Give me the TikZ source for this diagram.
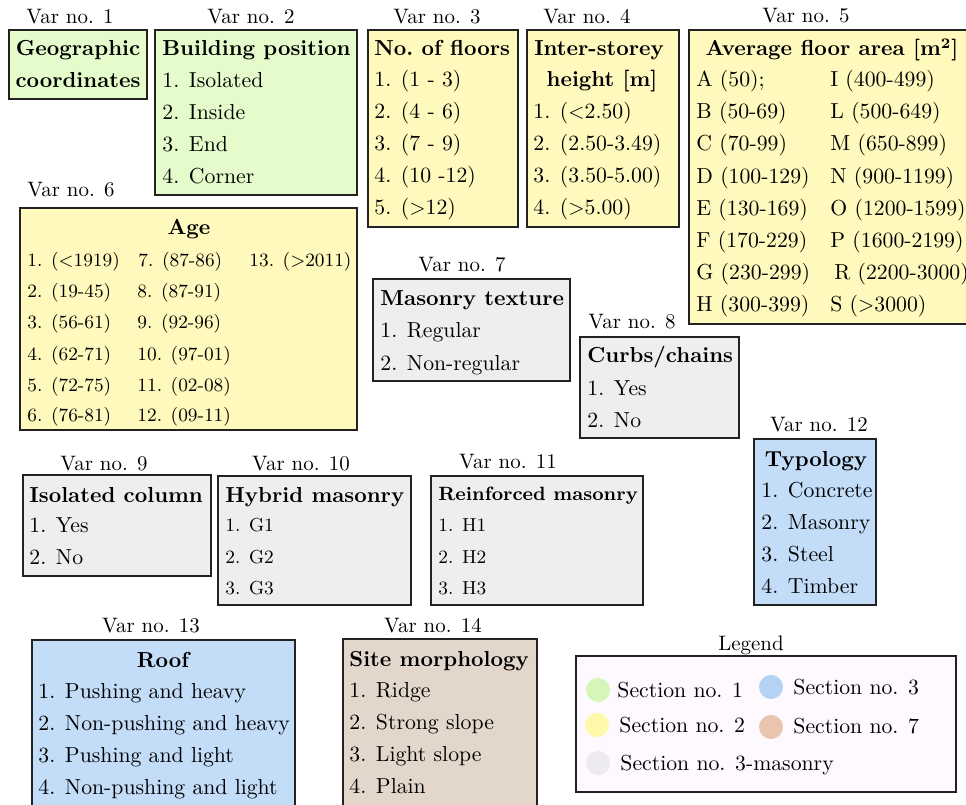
\documentclass[tikz,border=0pt]{standalone}
\usetikzlibrary{fit}
\definecolor{cgreen}{HTML}{E4FCCB}
\definecolor{cyellow}{HTML}{FFF9BD}
\definecolor{cgray}{HTML}{EEEEEE}
\definecolor{cblue}{HTML}{C3DDF9}
\definecolor{cbrown}{HTML}{E3D6CB}
\definecolor{clegend}{HTML}{FDF9FE}
\definecolor{lgreen}{HTML}{D6F6B9}
\definecolor{lyellow}{HTML}{FFF8AA}
\definecolor{lgray}{HTML}{EEEBF0}
\definecolor{lblue}{HTML}{B4D2F4}
\definecolor{lbrown}{HTML}{E9C5AF}
\definecolor{cborder}{HTML}{222222}
\newcommand{\boxfont}{\fontsize{10.4}{12.5}\selectfont}
\begin{document}
\begin{tikzpicture}[x=0.4785pt, y=-0.4785pt,
  vbox/.style={draw=cborder, line width=0.75pt, inner sep=0pt},
  txt/.style={anchor=base west, inner sep=0pt, font=\boxfont},
  ctxt/.style={anchor=base, inner sep=0pt, font=\boxfont},
  lbl/.style={anchor=base, inner sep=0pt},
  sm/.style={anchor=base west, inner sep=0pt, font=\small},
  legdot/.style={circle, inner sep=0pt, minimum size=11.5pt}]
\useasboundingbox (0,0) rectangle (966,805);
\clip (0,0) rectangle (966,805);

% ---------- Var no. 1
\node[lbl] (l1) at (70,24) {Var no. 1};
\node[vbox, fit={(9,30) (147,99)}, fill=cgreen] (v1) {};
\node[ctxt] (v1a) at (78,56) {\bfseries Geographic};
\node[ctxt] (v1b) at (78,88) {\bfseries coordinates};

% ---------- Var no. 2
\node[lbl] (l2) at (251,24) {Var no. 2};
\node[vbox, fit={(155,30) (357,195)}, fill=cgreen] (v2) {};
\node[txt] (v2t) at (162,56) {\bfseries Building position};
\node[txt] (v2a) at (162,88) {1. Isolated};
\node[txt] (v2b) at (162,120) {2. Inside};
\node[txt] (v2c) at (162,152) {3. End};
\node[txt] (v2d) at (162,184) {4. Corner};

% ---------- Var no. 3
\node[lbl] (l3) at (437,24) {Var no. 3};
\node[vbox, fit={(368,30) (518,227)}, fill=cyellow] (v3) {};
\node[txt] (v3t) at (374,56) {\bfseries No.\ of floors};
\node[txt] (v3a) at (374,87) {1. (1 - 3)};
\node[txt] (v3b) at (374,119) {2. (4 - 6)};
\node[txt] (v3c) at (374,151) {3. (7 - 9)};
\node[txt] (v3d) at (374,183) {4. (10 -12)};
\node[txt] (v3e) at (374,215) {5. ($>$12)};

% ---------- Var no. 4
\node[lbl] (l4) at (587,24) {Var no. 4};
\node[vbox, fit={(527,30) (679,227)}, fill=cyellow] (v4) {};
\node[ctxt] (v4t) at (599,56) {\bfseries Inter-storey};
\node[ctxt] (v4u) at (602,87) {\bfseries height [m]};
\node[txt] (v4a) at (533,119) {1. ($<$2.50)};
\node[txt] (v4b) at (533,151) {2. (2.50-3.49)};
\node[txt] (v4c) at (533,183) {3. (3.50-5.00)};
\node[txt] (v4d) at (533,215) {4. ($>$5.00)};

% ---------- Var no. 5
\node[lbl] (l5) at (806,23) {Var no. 5};
\node[vbox, fit={(689,30) (990,324)}, fill=cyellow] (v5) {};
\node[ctxt] (v5t) at (832,56) {\bfseries Average floor area [m$^{\mathbf{2}}$]};
\node[txt] (v5a) at (696,87) {A (50);};
\node[txt] (v5b) at (696,119) {B (50-69)};
\node[txt] (v5c) at (696,151) {C (70-99)};
\node[txt] (v5d) at (696,184) {D (100-129)};
\node[txt] (v5e) at (696,216) {E (130-169)};
\node[txt] (v5f) at (696,248) {F (170-229)};
\node[txt] (v5g) at (696,280) {G (230-299)};
\node[txt] (v5h) at (696,312) {H (300-399)};
\node[txt] (v5i) at (830,87) {I (400-499)};
\node[txt] (v5l) at (830,119) {L (500-649)};
\node[txt] (v5m) at (830,151) {M (650-899)};
\node[txt] (v5n) at (830,184) {N (900-1199)};
\node[txt] (v5o) at (830,216) {O (1200-1599)};
\node[txt] (v5p) at (830,248) {P (1600-2199)};
\node[txt] (v5r) at (834,280) {R (2200-3000)};
\node[txt] (v5s) at (830,312) {S ($>$3000)};

% ---------- Var no. 6
\node[lbl] (l6) at (71,197) {Var no. 6};
\node[vbox, fit={(20,208) (357,430)}, fill=cyellow] (v6) {};
\node[ctxt] (v6t) at (189,235) {\bfseries Age};
\node[sm] (v6a) at (27,267) {1. ($<$1919)};
\node[sm] (v6b) at (27,298) {2. (19-45)};
\node[sm] (v6c) at (27,329) {3. (56-61)};
\node[sm] (v6d) at (27,360) {4. (62-71)};
\node[sm] (v6e) at (27,391) {5. (72-75)};
\node[sm] (v6f) at (27,421) {6. (76-81)};
\node[sm] (v6g) at (138,267) {7. (87-86)};
\node[sm] (v6h) at (137,298) {8. (87-91)};
\node[sm] (v6i) at (137,329) {9. (92-96)};
\node[sm] (v6j) at (137,360) {10. (97-01)};
\node[sm] (v6k) at (137,391) {11. (02-08)};
\node[sm] (v6l) at (137,421) {12. (09-11)};
\node[sm] (v6m) at (249,267) {13. ($>$2011)};

% ---------- Var no. 7
\node[lbl] (l7) at (462,272) {Var no. 7};
\node[vbox, fit={(373,279) (570,381)}, fill=cgray] (v7) {};
\node[txt] (v7t) at (380,306) {\bfseries Masonry texture};
\node[txt] (v7a) at (380,338) {1. Regular};
\node[txt] (v7b) at (380,370) {2. Non-regular};

% ---------- Var no. 8
\node[lbl] (l8) at (632,329) {Var no. 8};
\node[vbox, fit={(580,337) (739,438)}, fill=cgray] (v8) {};
\node[txt] (v8t) at (587,363) {\bfseries Curbs/chains};
\node[txt] (v8a) at (587,395) {1. Yes};
\node[txt] (v8b) at (587,427) {2. No};

% ---------- Var no. 9
\node[lbl] (l9) at (104,470) {Var no. 9};
\node[vbox, fit={(23,475) (211,576)}, fill=cgray] (v9) {};
\node[txt] (v9t) at (29,502) {\bfseries Isolated column};
\node[txt] (v9a) at (29,532) {1. Yes};
\node[txt] (v9b) at (29,564) {2. No};

% ---------- Var no. 10
\node[lbl] (l10) at (301,470) {Var no. 10};
\node[vbox, fit={(218,476) (411,605)}, fill=cgray] (v10) {};
\node[txt] (v10t) at (225,502) {\bfseries Hybrid masonry};
\node[sm] (v10a) at (225,531) {1. G1};
\node[sm] (v10b) at (225,563) {2. G2};
\node[sm] (v10c) at (225,594) {3. G3};

% ---------- Var no. 11
\node[lbl] (l11) at (508,468) {Var no. 11};
\node[vbox, fit={(431,476) (643,605)}, fill=cgray] (v11) {};
\node[txt] (v11t) at (438,500) {\fontsize{9.2}{11}\selectfont\bfseries Reinforced masonry};
\node[sm] (v11a) at (438,531) {1. H1};
\node[sm] (v11b) at (438,563) {2. H2};
\node[sm] (v11c) at (438,594) {3. H3};

% ---------- Var no. 12
\node[lbl] (l12) at (819,431) {Var no. 12};
\node[vbox, fit={(754,439) (876,605)}, fill=cblue] (v12) {};
\node[ctxt] (v12t) at (816,466) {\bfseries Typology};
\node[txt] (v12a) at (761,497) {1. Concrete};
\node[txt] (v12b) at (761,529) {2. Masonry};
\node[txt] (v12c) at (761,561) {3. Steel};
\node[txt] (v12d) at (761,593) {4. Timber};

% ---------- Var no. 13
\node[lbl] (l13) at (151,632) {Var no. 13};
\node[vbox, fit={(32,640) (295,815)}, fill=cblue] (v13) {};
\node[ctxt] (v13t) at (163,667) {\bfseries Roof};
\node[txt] (v13a) at (38,698) {1. Pushing and heavy};
\node[txt] (v13b) at (38,730) {2. Non-pushing and heavy};
\node[txt] (v13c) at (38,762) {3. Pushing and light};
\node[txt] (v13d) at (38,794) {4. Non-pushing and light};

% ---------- Var no. 14
\node[lbl] (l14) at (433,632) {Var no. 14};
\node[vbox, fit={(343,639) (537,815)}, fill=cbrown] (v14) {};
\node[txt] (v14t) at (349,666) {\bfseries Site morphology};
\node[txt] (v14a) at (349,697) {1. Ridge};
\node[txt] (v14b) at (349,729) {2. Strong slope};
\node[txt] (v14c) at (349,761) {3. Light slope};
\node[txt] (v14d) at (349,793) {4. Plain};

% ---------- Legend
\node[lbl] (lleg) at (751,650) {Legend};
\node[vbox, fit={(576,656) (956,792)}, fill=clegend] (leg) {};
\node[legdot, fill=lgreen] (d1) at (598,690) {};
\node[txt] (s1) at (617,697) {Section no. 1};
\node[legdot, fill=lblue] (d3) at (771,687) {};
\node[txt] (s3) at (793,694) {Section no. 3};
\node[legdot, fill=lyellow] (d2) at (597,725) {};
\node[txt] (s2) at (619,732) {Section no. 2};
\node[legdot, fill=lbrown] (d7) at (771,727) {};
\node[txt] (s7) at (793,733) {Section no. 7};
\node[legdot, fill=lgray] (d3m) at (598,763) {};
\node[txt] (s3m) at (620,770) {Section no. 3-masonry};
\end{tikzpicture}
\end{document}
